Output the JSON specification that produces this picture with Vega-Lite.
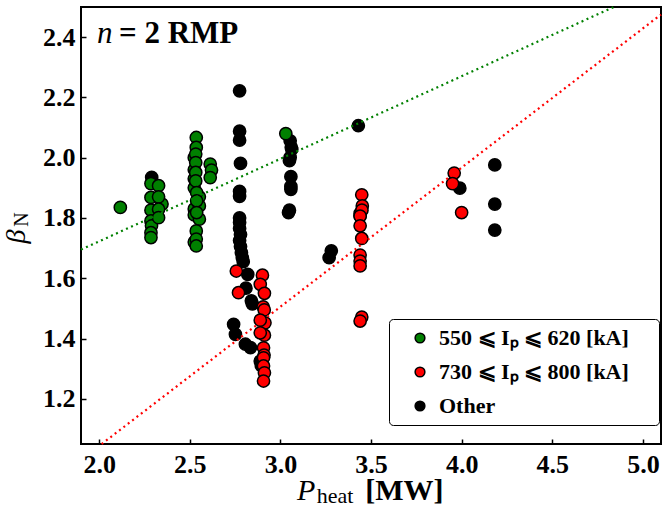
{
  "$schema": "https://vega.github.io/schema/vega-lite/v6.json",
  "autosize": "none",
  "width": 580,
  "height": 437,
  "padding": {"left": 81, "top": 7, "right": 1, "bottom": 64},
  "background": "white",
  "config": {
    "view": {"stroke": "black", "strokeWidth": 2},
    "font": "Liberation Serif",
    "axis": {
      "domain": false,
      "grid": false,
      "ticks": true,
      "tickColor": "black",
      "tickSize": -5,
      "tickWidth": 1.5,
      "labelFont": "Liberation Serif",
      "labelFontWeight": "bold",
      "labelFontSize": 26,
      "labelColor": "black",
      "title": null
    }
  },
  "layer": [
    {
      "data": {"values": [
        {"P": 2.29, "beta": 1.935, "group": "Other"},
        {"P": 2.775, "beta": 2.222, "group": "Other"},
        {"P": 2.775, "beta": 2.088, "group": "Other"},
        {"P": 2.775, "beta": 2.058, "group": "Other"},
        {"P": 2.78, "beta": 1.981, "group": "Other"},
        {"P": 2.775, "beta": 1.888, "group": "Other"},
        {"P": 2.775, "beta": 1.872, "group": "Other"},
        {"P": 2.775, "beta": 1.800, "group": "Other"},
        {"P": 2.775, "beta": 1.785, "group": "Other"},
        {"P": 2.775, "beta": 1.765, "group": "Other"},
        {"P": 2.78, "beta": 1.745, "group": "Other"},
        {"P": 2.775, "beta": 1.725, "group": "Other"},
        {"P": 2.78, "beta": 1.705, "group": "Other"},
        {"P": 2.785, "beta": 1.685, "group": "Other"},
        {"P": 2.79, "beta": 1.668, "group": "Other"},
        {"P": 2.795, "beta": 1.655, "group": "Other"},
        {"P": 2.82, "beta": 1.613, "group": "Other"},
        {"P": 2.81, "beta": 1.567, "group": "Other"},
        {"P": 2.84, "beta": 1.525, "group": "Other"},
        {"P": 2.845, "beta": 1.515, "group": "Other"},
        {"P": 2.742, "beta": 1.447, "group": "Other"},
        {"P": 2.752, "beta": 1.414, "group": "Other"},
        {"P": 2.807, "beta": 1.381, "group": "Other"},
        {"P": 2.835, "beta": 1.370, "group": "Other"},
        {"P": 2.889, "beta": 1.325, "group": "Other"},
        {"P": 2.895, "beta": 1.31, "group": "Other"},
        {"P": 3.054, "beta": 2.056, "group": "Other"},
        {"P": 3.063, "beta": 2.028, "group": "Other"},
        {"P": 3.06, "beta": 2.035, "group": "Other"},
        {"P": 3.054, "beta": 2.001, "group": "Other"},
        {"P": 3.05, "beta": 1.99, "group": "Other"},
        {"P": 3.058, "beta": 1.937, "group": "Other"},
        {"P": 3.058, "beta": 1.905, "group": "Other"},
        {"P": 3.058, "beta": 1.895, "group": "Other"},
        {"P": 3.045, "beta": 1.818, "group": "Other"},
        {"P": 3.05, "beta": 1.826, "group": "Other"},
        {"P": 3.269, "beta": 1.668, "group": "Other"},
        {"P": 3.281, "beta": 1.691, "group": "Other"},
        {"P": 3.43, "beta": 2.106, "group": "Other"},
        {"P": 3.44, "beta": 1.807, "group": "Other"},
        {"P": 3.44, "beta": 1.815, "group": "Other"},
        {"P": 3.99, "beta": 1.899, "group": "Other"},
        {"P": 4.183, "beta": 1.976, "group": "Other"},
        {"P": 4.183, "beta": 1.846, "group": "Other"},
        {"P": 4.183, "beta": 1.760, "group": "Other"},
        {"P": 2.117, "beta": 1.835, "group": "550 ⩽ Iₚ ⩽ 620 [kA]"},
        {"P": 2.286, "beta": 1.914, "group": "550 ⩽ Iₚ ⩽ 620 [kA]"},
        {"P": 2.286, "beta": 1.868, "group": "550 ⩽ Iₚ ⩽ 620 [kA]"},
        {"P": 2.286, "beta": 1.826, "group": "550 ⩽ Iₚ ⩽ 620 [kA]"},
        {"P": 2.286, "beta": 1.790, "group": "550 ⩽ Iₚ ⩽ 620 [kA]"},
        {"P": 2.289, "beta": 1.774, "group": "550 ⩽ Iₚ ⩽ 620 [kA]"},
        {"P": 2.286, "beta": 1.751, "group": "550 ⩽ Iₚ ⩽ 620 [kA]"},
        {"P": 2.286, "beta": 1.735, "group": "550 ⩽ Iₚ ⩽ 620 [kA]"},
        {"P": 2.347, "beta": 1.846, "group": "550 ⩽ Iₚ ⩽ 620 [kA]"},
        {"P": 2.328, "beta": 1.907, "group": "550 ⩽ Iₚ ⩽ 620 [kA]"},
        {"P": 2.328, "beta": 1.870, "group": "550 ⩽ Iₚ ⩽ 620 [kA]"},
        {"P": 2.328, "beta": 1.829, "group": "550 ⩽ Iₚ ⩽ 620 [kA]"},
        {"P": 2.328, "beta": 1.801, "group": "550 ⩽ Iₚ ⩽ 620 [kA]"},
        {"P": 2.525, "beta": 2.000, "group": "550 ⩽ Iₚ ⩽ 620 [kA]"},
        {"P": 2.525, "beta": 1.960, "group": "550 ⩽ Iₚ ⩽ 620 [kA]"},
        {"P": 2.525, "beta": 1.930, "group": "550 ⩽ Iₚ ⩽ 620 [kA]"},
        {"P": 2.525, "beta": 1.900, "group": "550 ⩽ Iₚ ⩽ 620 [kA]"},
        {"P": 2.525, "beta": 1.830, "group": "550 ⩽ Iₚ ⩽ 620 [kA]"},
        {"P": 2.525, "beta": 1.810, "group": "550 ⩽ Iₚ ⩽ 620 [kA]"},
        {"P": 2.525, "beta": 1.720, "group": "550 ⩽ Iₚ ⩽ 620 [kA]"},
        {"P": 2.553, "beta": 1.796, "group": "550 ⩽ Iₚ ⩽ 620 [kA]"},
        {"P": 2.553, "beta": 1.870, "group": "550 ⩽ Iₚ ⩽ 620 [kA]"},
        {"P": 2.553, "beta": 1.840, "group": "550 ⩽ Iₚ ⩽ 620 [kA]"},
        {"P": 2.536, "beta": 2.067, "group": "550 ⩽ Iₚ ⩽ 620 [kA]"},
        {"P": 2.536, "beta": 2.034, "group": "550 ⩽ Iₚ ⩽ 620 [kA]"},
        {"P": 2.533, "beta": 2.012, "group": "550 ⩽ Iₚ ⩽ 620 [kA]"},
        {"P": 2.533, "beta": 1.984, "group": "550 ⩽ Iₚ ⩽ 620 [kA]"},
        {"P": 2.533, "beta": 1.951, "group": "550 ⩽ Iₚ ⩽ 620 [kA]"},
        {"P": 2.533, "beta": 1.923, "group": "550 ⩽ Iₚ ⩽ 620 [kA]"},
        {"P": 2.538, "beta": 1.884, "group": "550 ⩽ Iₚ ⩽ 620 [kA]"},
        {"P": 2.538, "beta": 1.857, "group": "550 ⩽ Iₚ ⩽ 620 [kA]"},
        {"P": 2.538, "beta": 1.818, "group": "550 ⩽ Iₚ ⩽ 620 [kA]"},
        {"P": 2.536, "beta": 1.757, "group": "550 ⩽ Iₚ ⩽ 620 [kA]"},
        {"P": 2.536, "beta": 1.730, "group": "550 ⩽ Iₚ ⩽ 620 [kA]"},
        {"P": 2.536, "beta": 1.707, "group": "550 ⩽ Iₚ ⩽ 620 [kA]"},
        {"P": 2.613, "beta": 1.979, "group": "550 ⩽ Iₚ ⩽ 620 [kA]"},
        {"P": 2.62, "beta": 1.959, "group": "550 ⩽ Iₚ ⩽ 620 [kA]"},
        {"P": 2.613, "beta": 1.934, "group": "550 ⩽ Iₚ ⩽ 620 [kA]"},
        {"P": 3.030, "beta": 2.080, "group": "550 ⩽ Iₚ ⩽ 620 [kA]"},
        {"P": 2.757, "beta": 1.624, "group": "730 ⩽ Iₚ ⩽ 800 [kA]"},
        {"P": 2.769, "beta": 1.552, "group": "730 ⩽ Iₚ ⩽ 800 [kA]"},
        {"P": 2.901, "beta": 1.610, "group": "730 ⩽ Iₚ ⩽ 800 [kA]"},
        {"P": 2.889, "beta": 1.580, "group": "730 ⩽ Iₚ ⩽ 800 [kA]"},
        {"P": 2.912, "beta": 1.550, "group": "730 ⩽ Iₚ ⩽ 800 [kA]"},
        {"P": 2.905, "beta": 1.505, "group": "730 ⩽ Iₚ ⩽ 800 [kA]"},
        {"P": 2.911, "beta": 1.495, "group": "730 ⩽ Iₚ ⩽ 800 [kA]"},
        {"P": 2.915, "beta": 1.452, "group": "730 ⩽ Iₚ ⩽ 800 [kA]"},
        {"P": 2.889, "beta": 1.461, "group": "730 ⩽ Iₚ ⩽ 800 [kA]"},
        {"P": 2.912, "beta": 1.411, "group": "730 ⩽ Iₚ ⩽ 800 [kA]"},
        {"P": 2.889, "beta": 1.419, "group": "730 ⩽ Iₚ ⩽ 800 [kA]"},
        {"P": 2.907, "beta": 1.369, "group": "730 ⩽ Iₚ ⩽ 800 [kA]"},
        {"P": 2.91, "beta": 1.345, "group": "730 ⩽ Iₚ ⩽ 800 [kA]"},
        {"P": 2.907, "beta": 1.336, "group": "730 ⩽ Iₚ ⩽ 800 [kA]"},
        {"P": 2.907, "beta": 1.309, "group": "730 ⩽ Iₚ ⩽ 800 [kA]"},
        {"P": 2.912, "beta": 1.286, "group": "730 ⩽ Iₚ ⩽ 800 [kA]"},
        {"P": 2.907, "beta": 1.259, "group": "730 ⩽ Iₚ ⩽ 800 [kA]"},
        {"P": 3.449, "beta": 1.877, "group": "730 ⩽ Iₚ ⩽ 800 [kA]"},
        {"P": 3.452, "beta": 1.840, "group": "730 ⩽ Iₚ ⩽ 800 [kA]"},
        {"P": 3.45, "beta": 1.826, "group": "730 ⩽ Iₚ ⩽ 800 [kA]"},
        {"P": 3.44, "beta": 1.806, "group": "730 ⩽ Iₚ ⩽ 800 [kA]"},
        {"P": 3.44, "beta": 1.774, "group": "730 ⩽ Iₚ ⩽ 800 [kA]"},
        {"P": 3.449, "beta": 1.732, "group": "730 ⩽ Iₚ ⩽ 800 [kA]"},
        {"P": 3.44, "beta": 1.677, "group": "730 ⩽ Iₚ ⩽ 800 [kA]"},
        {"P": 3.44, "beta": 1.657, "group": "730 ⩽ Iₚ ⩽ 800 [kA]"},
        {"P": 3.44, "beta": 1.641, "group": "730 ⩽ Iₚ ⩽ 800 [kA]"},
        {"P": 3.449, "beta": 1.471, "group": "730 ⩽ Iₚ ⩽ 800 [kA]"},
        {"P": 3.44, "beta": 1.458, "group": "730 ⩽ Iₚ ⩽ 800 [kA]"},
        {"P": 3.959, "beta": 1.949, "group": "730 ⩽ Iₚ ⩽ 800 [kA]"},
        {"P": 3.950, "beta": 1.914, "group": "730 ⩽ Iₚ ⩽ 800 [kA]"},
        {"P": 4.0, "beta": 1.818, "group": "730 ⩽ Iₚ ⩽ 800 [kA]"}
      ]},
      "mark": {"type": "circle", "size": 150, "opacity": 1, "stroke": "black", "strokeWidth": 1.5},
      "encoding": {
        "x": {"field": "P", "type": "quantitative",
              "scale": {"domain": [1.9, 5.1], "nice": false, "zero": false},
              "axis": {"values": [2.0, 2.5, 3.0, 3.5, 4.0, 4.5, 5.0], "format": ".1f", "labelPadding": 12}},
        "y": {"field": "beta", "type": "quantitative",
              "scale": {"domain": [1.05, 2.5], "nice": false, "zero": false},
              "axis": {"values": [1.2, 1.4, 1.6, 1.8, 2.0, 2.2, 2.4], "format": ".1f", "labelPadding": 11}},
        "fill": {"field": "group", "type": "nominal",
                 "scale": {"domain": ["550 ⩽ Iₚ ⩽ 620 [kA]", "730 ⩽ Iₚ ⩽ 800 [kA]", "Other"], "range": ["green", "red", "black"]},
                 "legend": {
                   "title": null, "orient": "none", "legendX": 308, "legendY": 312,
                   "symbolType": "circle", "symbolSize": 95, "symbolStrokeColor": "black", "symbolStrokeWidth": 1.5,
                   "symbolOffset": 12, "labelOffset": 8,
                   "labelFont": "Liberation Serif", "labelFontWeight": "bold", "labelFontSize": 22, "labelColor": "black",
                   "labelLimit": 400, "rowPadding": 12, "padding": 8,
                   "strokeColor": "black", "fillColor": "white", "cornerRadius": 4,
                   "labelExpr": "datum.label + '\u00a0\u2800'"
                 }}
      }
    },
    {
      "data": {"values": [{"P": 1.9, "beta": 1.695}, {"P": 4.839, "beta": 2.5}]},
      "mark": {"type": "line", "color": "green", "strokeWidth": 2.2, "strokeDash": [2, 3.5], "strokeCap": "butt"},
      "encoding": {"x": {"field": "P", "type": "quantitative"}, "y": {"field": "beta", "type": "quantitative"}}
    },
    {
      "data": {"values": [{"P": 2.014, "beta": 1.05}, {"P": 5.1, "beta": 2.475}]},
      "mark": {"type": "line", "color": "red", "strokeWidth": 2.2, "strokeDash": [2, 3.5], "strokeCap": "butt"},
      "encoding": {"x": {"field": "P", "type": "quantitative"}, "y": {"field": "beta", "type": "quantitative"}}
    },
    {
      "data": {"values": [{"t": "n"}]},
      "mark": {"type": "text", "font": "Liberation Serif", "fontStyle": "italic", "fontSize": 31, "align": "left", "baseline": "alphabetic", "color": "black"},
      "encoding": {"text": {"field": "t"}, "x": {"datum": 1.988}, "y": {"datum": 2.38}}
    },
    {
      "data": {"values": [{"t": "= 2 RMP"}]},
      "mark": {"type": "text", "font": "Liberation Serif", "fontWeight": "bold", "fontSize": 31, "align": "left", "baseline": "alphabetic", "color": "black"},
      "encoding": {"text": {"field": "t"}, "x": {"datum": 2.11}, "y": {"datum": 2.38}}
    },
    {
      "data": {"values": [{"t": "P"}]},
      "mark": {"type": "text", "font": "Liberation Serif", "fontStyle": "italic", "fontSize": 30, "align": "left", "baseline": "alphabetic", "color": "black"},
      "encoding": {"text": {"field": "t"}, "x": {"datum": 3.092}, "y": {"datum": 0.864}}
    },
    {
      "data": {"values": [{"t": "heat"}]},
      "mark": {"type": "text", "font": "Liberation Serif", "fontSize": 22, "align": "left", "baseline": "alphabetic", "color": "black"},
      "encoding": {"text": {"field": "t"}, "x": {"datum": 3.2}, "y": {"datum": 0.853}}
    },
    {
      "data": {"values": [{"t": "[MW]"}]},
      "mark": {"type": "text", "font": "Liberation Serif", "fontWeight": "bold", "fontSize": 30, "align": "left", "baseline": "alphabetic", "color": "black"},
      "encoding": {"text": {"field": "t"}, "x": {"datum": 3.468}, "y": {"datum": 0.864}}
    },
    {
      "data": {"values": [{"t": "β"}]},
      "mark": {"type": "text", "font": "Liberation Serif", "fontStyle": "italic", "fontSize": 28, "align": "center", "baseline": "middle", "angle": 270, "color": "black"},
      "encoding": {"text": {"field": "t"}, "x": {"datum": 1.549}, "y": {"datum": 1.738}}
    },
    {
      "data": {"values": [{"t": "N"}]},
      "mark": {"type": "text", "font": "Liberation Serif", "fontSize": 20, "align": "center", "baseline": "middle", "angle": 270, "color": "black"},
      "encoding": {"text": {"field": "t"}, "x": {"datum": 1.575}, "y": {"datum": 1.795}}
    }
  ]
}
